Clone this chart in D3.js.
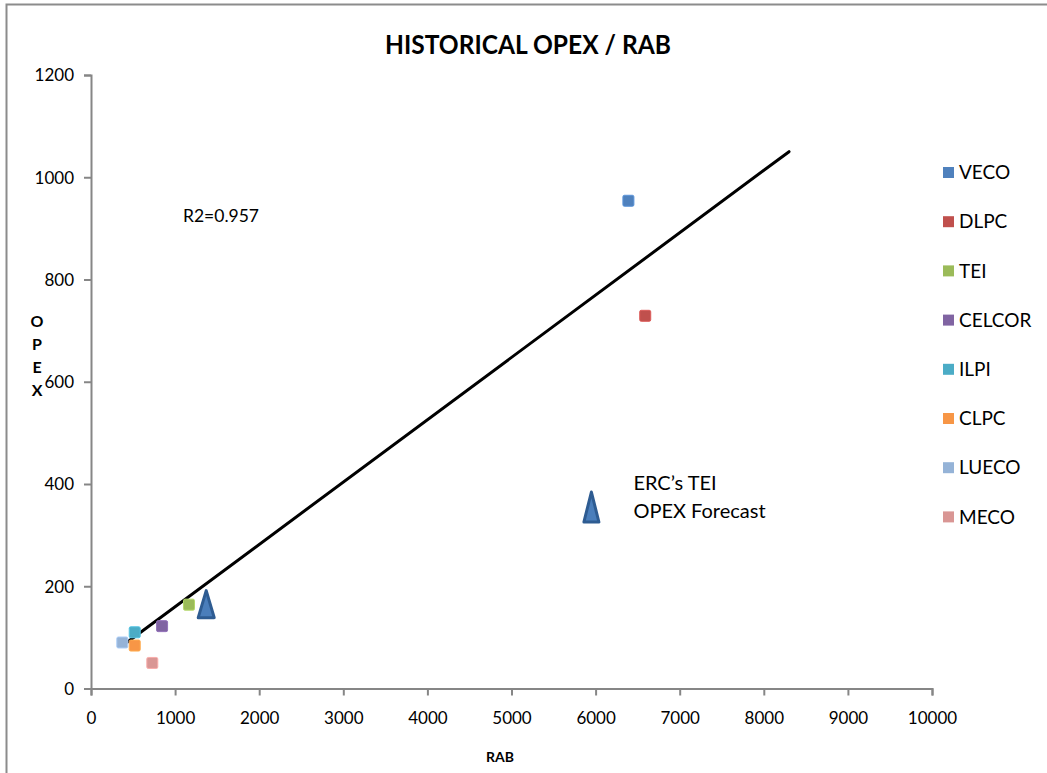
<!DOCTYPE html>
<html>
<head>
<meta charset="utf-8">
<script src="https://cdn.jsdelivr.net/npm/d3@7/dist/d3.min.js"></script>
<style>
  html, body { margin: 0; padding: 0; background: #fff; }
  svg { display: block; }
  text { font-family: Lato, "Open Sans", sans-serif; fill: #000; }
</style>
</head>
<body>
<svg id="chart" width="1047" height="773"></svg>
<script>
// ---- data ----
const companies = ["VECO", "DLPC", "TEI", "CELCOR", "ILPI", "CLPC", "LUECO", "MECO"];
const rabValues = [6390, 6590, 1165, 845, 520, 520, 372, 729];
const opexValues = [954, 729, 164, 122, 110, 84, 90, 50];
const seriesColors = ["#4F81BD", "#C0504D", "#9BBB59", "#8064A2", "#4BACC6", "#F79646", "#95B3D7", "#D99694"];

const forecastRab = [1370];
const forecastOpex = [165];

const trendRab = [394, 8300];
const trendOpex = [86, 1050];

const xTickValues = [0, 1000, 2000, 3000, 4000, 5000, 6000, 7000, 8000, 9000, 10000];
const yTickValues = [0, 200, 400, 600, 800, 1000, 1200];

const titleText = "HISTORICAL OPEX / RAB";
const xTitle = "RAB";
const yTitleLetters = ["O", "P", "E", "X"];
const r2Label = "R2=0.957";
const annotationLines = ["ERC\u2019s TEI", "OPEX Forecast"];
const annotationAt = [5950, 355];   // chart-unit anchor of the annotation triangle
const r2At = [1094, 925];

// ---- layout ----
const svg = d3.select("#chart");
const x = d3.scaleLinear().domain([0, 10000]).range([91, 932]);
const y = d3.scaleLinear().domain([0, 1200]).range([688.5, 75]);
const axisColor = "#868686";

// outer chart border
svg.append("rect")
  .attr("x", 6.5).attr("y", 4.5).attr("width", 1200).attr("height", 1000)
  .attr("fill", "none").attr("stroke", "#8c8c8c").attr("stroke-width", 2);

// title
svg.append("text")
  .attr("x", 528).attr("y", 54)
  .attr("text-anchor", "middle")
  .attr("font-weight", "bold").attr("font-size", 27)
  .attr("textLength", 286).attr("lengthAdjust", "spacingAndGlyphs")
  .text(titleText);

// axes
const xAxis = d3.axisBottom(x).tickValues(xTickValues).tickSize(7).tickPadding(16).tickFormat(d3.format("d"));
const yAxis = d3.axisLeft(y).tickValues(yTickValues).tickSize(7).tickPadding(10).tickFormat(d3.format("d"));

const gx = svg.append("g").attr("transform", `translate(0,${y(0)})`).call(xAxis);
const gy = svg.append("g").attr("transform", `translate(${x(0)},0)`).call(yAxis);
[gx, gy].forEach(g => {
  g.select(".domain").attr("stroke", axisColor).attr("stroke-width", 2);
  g.selectAll(".tick line").attr("stroke", axisColor).attr("stroke-width", 2);
  g.selectAll(".tick text").attr("font-family", "Lato, sans-serif").attr("font-size", 17).attr("fill", "#000");
});
gy.selectAll(".tick text").attr("dy", "0.35em");

// axis titles
svg.append("text")
  .attr("x", 500).attr("y", 762)
  .attr("text-anchor", "middle").attr("font-weight", "bold").attr("font-size", 14)
  .text(xTitle);

svg.append("g").selectAll("text").data(yTitleLetters).join("text")
  .attr("x", 37).attr("y", (d, i) => 327 + i * 23)
  .attr("text-anchor", "middle").attr("font-weight", "bold").attr("font-size", 16)
  .text(d => d);

// trend line
svg.append("line")
  .attr("x1", x(trendRab[0])).attr("y1", y(trendOpex[0]))
  .attr("x2", x(trendRab[1])).attr("y2", y(trendOpex[1]))
  .attr("stroke", "#000").attr("stroke-width", 3).attr("stroke-linecap", "round");

// R2 label
svg.append("text")
  .attr("x", x(r2At[0])).attr("y", y(r2At[1]) + 6)
  .attr("font-size", 17.5)
  .text(r2Label);

// data points
const points = companies.map((c, i) => ({ name: c, rab: rabValues[i], opex: opexValues[i], color: seriesColors[i] }));
const sq = 11;
svg.append("g").selectAll("rect").data(points).join("rect")
  .attr("x", d => x(d.rab) - sq / 2).attr("y", d => y(d.opex) - sq / 2)
  .attr("width", sq).attr("height", sq).attr("rx", 1.5)
  .attr("fill", d => d.color)
  .attr("stroke", d => d3.color(d.color).brighter(0.4)).attr("stroke-width", 1);

// triangle marker helper
function trianglePath(cx, cy, w, h) {
  return `M${cx},${cy - h / 2} L${cx + w / 2},${cy + h / 2} L${cx - w / 2},${cy + h / 2} Z`;
}

// forecast point
svg.append("g").selectAll("path").data(forecastRab.map((r, i) => [r, forecastOpex[i]])).join("path")
  .attr("d", d => trianglePath(x(d[0]), y(d[1]), 16, 27))
  .attr("fill", "#4A7EBB").attr("stroke", "#2E5C92").attr("stroke-width", 3)
  .attr("stroke-linejoin", "round");

// annotation
const ax = x(annotationAt[0]), ay = y(annotationAt[1]);
svg.append("path")
  .attr("d", trianglePath(ax, ay, 15, 30))
  .attr("fill", "#4A7EBB").attr("stroke", "#2E5C92").attr("stroke-width", 3)
  .attr("stroke-linejoin", "round");
svg.append("g").selectAll("text").data(annotationLines).join("text")
  .attr("x", ax + 42).attr("y", (d, i) => ay - 17 + i * 28)
  .attr("font-size", 20)
  .text(d => d);

// legend
const legend = svg.append("g").selectAll("g").data(points).join("g")
  .attr("transform", (d, i) => `translate(943,${172.5 + i * 49.2})`);
legend.append("rect")
  .attr("x", 0).attr("y", -5.5).attr("width", 11).attr("height", 11)
  .attr("fill", d => d.color);
legend.append("text")
  .attr("x", 16).attr("y", 0).attr("dy", "0.35em")
  .attr("font-size", 19)
  .text(d => d.name);
</script>
</body>
</html>
